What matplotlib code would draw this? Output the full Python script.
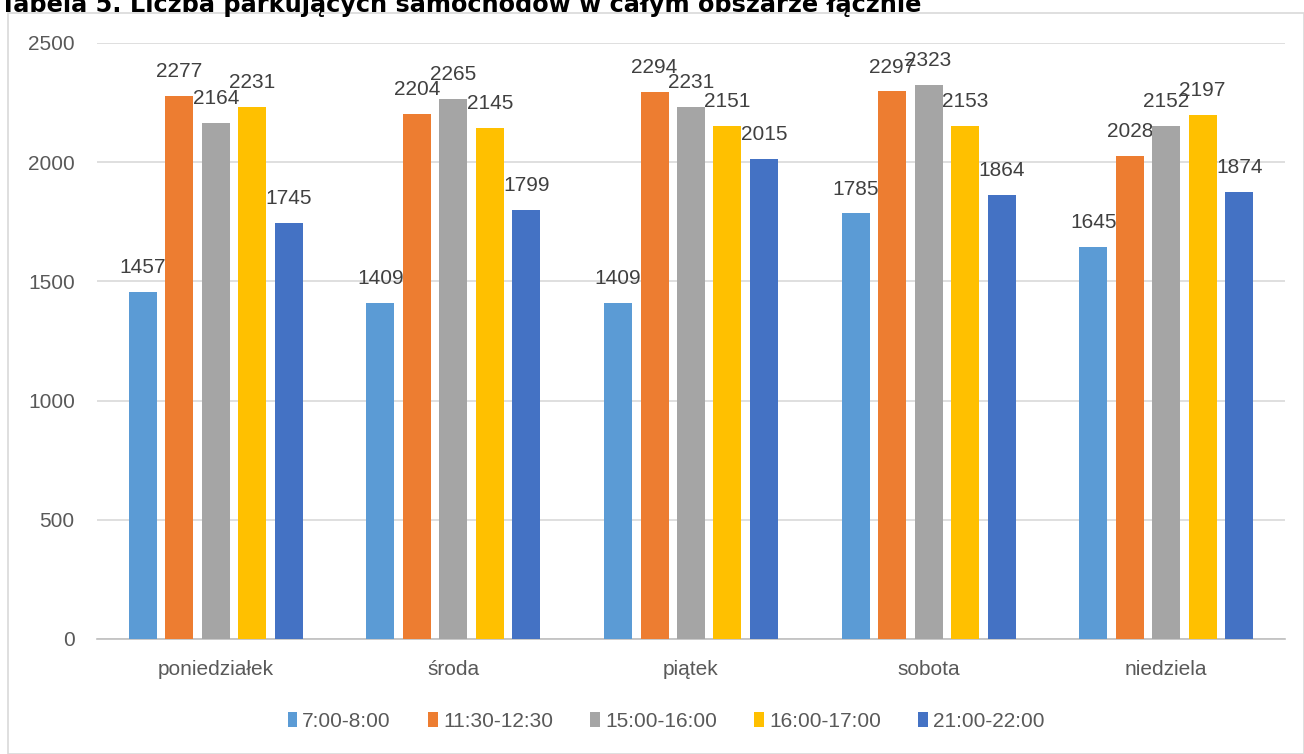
import matplotlib
matplotlib.use("Agg")
import matplotlib.pyplot as plt
from matplotlib.patches import Rectangle
import numpy as np

# dane z wykresu
days = ["poniedziałek", "środa", "piątek", "sobota", "niedziela"]
hours = ["7:00-8:00", "11:30-12:30", "15:00-16:00", "16:00-17:00", "21:00-22:00"]
v_0700 = [1457, 1409, 1409, 1785, 1645]
v_1130 = [2277, 2204, 2294, 2297, 2028]
v_1500 = [2164, 2265, 2231, 2323, 2152]
v_1600 = [2231, 2145, 2151, 2153, 2197]
v_2100 = [1745, 1799, 2015, 1864, 1874]
colors = ["#5B9BD5", "#ED7D31", "#A5A5A5", "#FFC000", "#4472C4"]

series = [v_0700, v_1130, v_1500, v_1600, v_2100]

plt.rcParams['font.family'] = ['Liberation Sans', 'DejaVu Sans']

fig = plt.figure(figsize=(13.04, 7.54), dpi=100)
ax = fig.add_axes([97/1304, 1 - 639/754, (1285-97)/1304, (639-43)/754])

# ramka wykresu
fig.patches.append(Rectangle((8/1304, 0), 1 - 8/1304, 1 - 13/754, transform=fig.transFigure,
                             fill=False, edgecolor="#d9d9d9", linewidth=1.2))

x = np.arange(len(days))
pitch = 0.1535
width = 0.118
for i, (vals, name, c) in enumerate(zip(series, hours, colors)):
    pos = x + (i - 2) * pitch
    bars = ax.bar(pos, vals, width=width, color=c, label=name, zorder=3)
    for b, v in zip(bars, vals):
        ax.annotate(str(v), (b.get_x() + b.get_width()/2, v), xytext=(0, 13.5),
                    textcoords="offset points", ha="center", va="baseline",
                    fontsize=15, color="#404040")

ax.set_xlim(-0.5, 4.5)
ax.set_ylim(0, 2500)
ax.set_yticks(range(0, 2501, 500))
ax.set_xticks(x)
ax.set_xticklabels(days)
ax.tick_params(axis="both", length=0, labelsize=15, labelcolor="#595959")
ax.tick_params(axis="x", pad=15)
ax.tick_params(axis="y", pad=16)
ax.grid(axis="y", color="#d9d9d9", linewidth=1.2, zorder=0)
for s in ["top", "right", "left"]:
    ax.spines[s].set_visible(False)
ax.spines["bottom"].set_color("#bfbfbf")
ax.spines["bottom"].set_linewidth(1.2)

ax.legend(loc="center", bbox_to_anchor=(0.479, -0.1377), ncol=5, frameon=False,
          fontsize=15, handlelength=0.45, handleheight=0.7, handletextpad=0.25,
          columnspacing=1.8, labelcolor="#595959", bbox_transform=ax.transAxes)

fig.text(0.0, 1 - 12/754, "Tabela 5. Liczba parkujących samochodów w całym obszarze łącznie",
         fontsize=17.3, fontweight="bold", family="DejaVu Sans", va="baseline", ha="left")

fig.savefig("out.png", dpi=100)
